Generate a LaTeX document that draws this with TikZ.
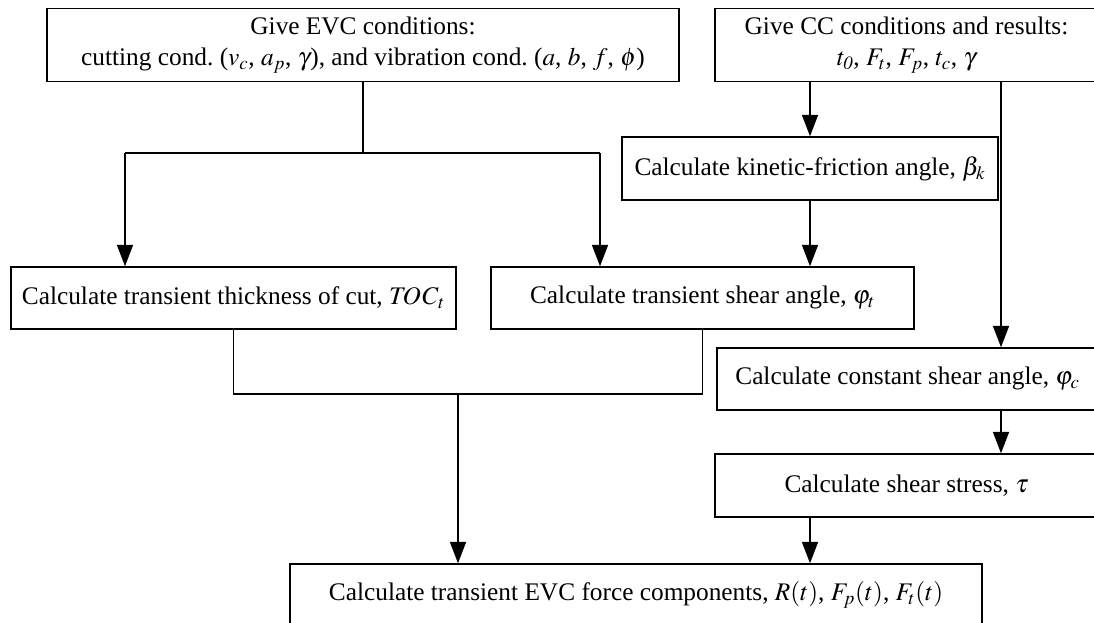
\documentclass[tikz,border=0pt]{standalone}
\usepackage{mathptmx}
\usepackage{fontspec}
\setmainfont{Liberation Serif}
\usetikzlibrary{arrows.meta}

\begin{document}
\begin{tikzpicture}[x=0.75pt,y=-0.75pt,
    box/.style={draw,line width=1.1pt,align=center,inner sep=1pt,
      font=\fontsize{19}{23.5}\selectfont},
    flow/.style={line width=1.1pt},
    arr/.style={flow,-{Triangle[length=16pt,width=12pt]}}]
  \useasboundingbox (0,0) rectangle (1094,623);
  \clip (0,0) rectangle (1094,623);
  % Inputs
  \node[box,minimum width=474pt,minimum height=54.75pt] (evc) at (363,45)
    {Give EVC conditions:\\cutting cond.\ ($v_c$, $a_p$, $\gamma$), and vibration cond.\ ($a$, $b$, $f$, $\phi$)};
  \node[box,minimum width=287.25pt,minimum height=54.75pt] (cc) at (906.5,45)
    {Give CC conditions and results:\\$t_{\mathit{0}}$, $F_t$, $F_p$, $t_c$, $\gamma$};
  % Steps
  \node[box,minimum width=282pt,minimum height=47.25pt] (kin) at (810,168.5)
    {Calculate kinetic-friction angle, $\beta_k$};
  \node[box,minimum width=333.75pt,minimum height=46.5pt] (toc) at (233.5,298)
    {Calculate transient thickness of cut, $\mathit{TOC}_t$};
  \node[box,minimum width=317.25pt,minimum height=46.5pt] (shear) at (702.5,298)
    {Calculate transient shear angle, $\varphi_t$};
  \node[box,minimum width=285.75pt,minimum height=46.5pt] (phic) at (907.5,379)
    {Calculate constant shear angle, $\varphi_c$};
  \node[box,minimum width=287.25pt,minimum height=47.25pt] (tau) at (906.5,485.5)
    {Calculate shear stress, $\tau$};
  % Result
  \node[box,minimum width=519pt,minimum height=46.5pt] (out) at (636,595)
    {Calculate transient EVC force components, $R(t)$, $F_p(t)$, $F_t(t)$};
  % Branch points
  \coordinate (sl) at (125,153);
  \coordinate (sr) at (600,153);
  \coordinate (join) at (458,394);
  \coordinate (rail) at (1001,0);
  % EVC branch
  \draw[flow] (evc.south) -- (evc.south |- sl);
  \draw[flow] (sl) -- (sr);
  \draw[arr] (sl) -- (sl |- toc.north);
  \draw[arr] (sr) -- (sr |- shear.north);
  % CC branch
  \draw[arr] (kin.north |- cc.south) -- (kin.north);
  \draw[arr] (kin.south) -- (kin.south |- shear.north);
  \draw[arr] (rail |- cc.south) -- (rail |- phic.north);
  \draw[arr] (rail |- phic.south) -- (rail |- tau.north);
  % Into the force calculation
  \draw[flow] (toc.south) |- (join) -| (shear.south);
  \draw[arr] (join) -- (join |- out.north);
  \draw[arr] (kin.south |- tau.south) -- (kin.south |- out.north);
\end{tikzpicture}
\end{document}
